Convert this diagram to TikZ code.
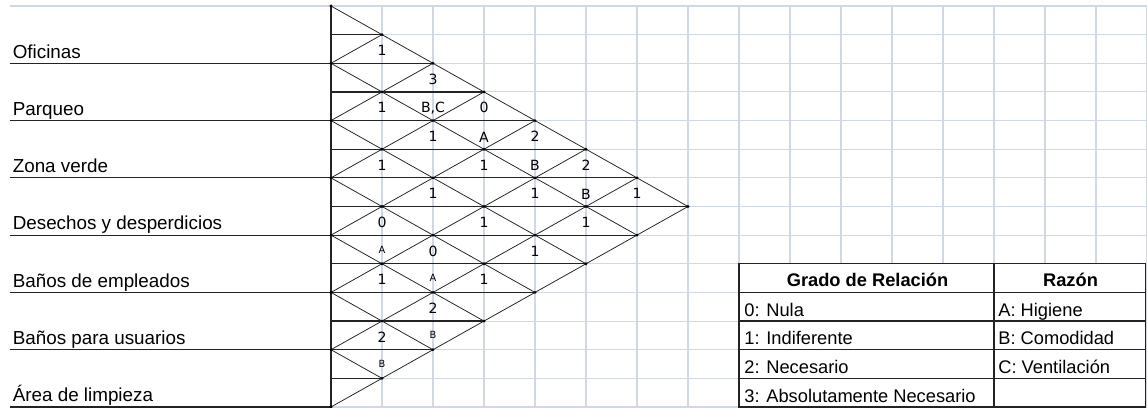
\documentclass[tikz,border=0pt]{standalone}
\usepackage{fontspec}
\setmainfont{Liberation Sans}
\newfontfamily\cellfont{DejaVu Sans}
\usepackage{tikz}
\usetikzlibrary{positioning}
\definecolor{gridblue}{RGB}{208,215,229}
\definecolor{mydark}{RGB}{35,35,35}
\tikzset{
  gridline/.style={draw=gridblue, line width=0.75pt},
  diagline/.style={draw=mydark, line width=0.55pt},
  rungline/.style={draw=mydark, line width=0.85pt},
  vertexdot/.style={fill=black},
  deptlabel/.style={anchor=base west, inner sep=0pt,
    font=\fontsize{13.4}{15}\selectfont},
  relnum/.style={inner sep=0pt, font=\cellfont\fontsize{10}{11}\selectfont},
  relletter/.style={inner sep=0pt, font=\cellfont\fontsize{10}{11}\selectfont},
  smallletter/.style={inner sep=0pt, font=\cellfont\fontsize{7}{8}\selectfont},
  tabhead/.style={anchor=base, inner sep=0pt,
    font=\bfseries\fontsize{13}{15}\selectfont},
  tabcell/.style={anchor=base west, inner sep=0pt,
    font=\fontsize{13}{15}\selectfont},
  tabline/.style={draw=mydark, line width=0.9pt}
}

\begin{document}
\begin{tikzpicture}[x=1.275cm, y=0.716cm]
  \useasboundingbox (-6.49,-0.035) rectangle (16.0,14.21);
  % Spreadsheet grid
  \foreach \c in {1,...,16}
    \draw[gridline] (\c,-0.2) -- (\c,14);
  \foreach \r in {0,...,13}
    \draw[gridline] (0,\r) -- (16.2,\r);
  \draw[gridline] (-6.294,14) -- (16.2,14);
  % Department names and their underlines
  \foreach \name [count=\k from 0] in {Oficinas, Parqueo, Zona verde,
      Desechos y desperdicios, Baños de empleados, Baños para usuarios,
      Área de limpieza} {
    \node[deptlabel] (dept\k) at (-6.245,12.18-2*\k) {\name};
    \draw[rungline] (-6.294,12-2*\k) -- (0,12-2*\k);
  }
  % Left edge of the chart
  \draw[rungline] (0,0) -- (0,14);
  % Horizontal rungs of the triangle
  \foreach \j in {1,...,13} {
    \pgfmathsetmacro\len{min(\j,14-\j)}
    \draw[rungline] (0,\j) -- (\len,\j);
  }
  % Diagonals
  \foreach \k in {0,...,7} {
    \draw[diagline] (0,2*\k) -- (\k,\k);
    \draw[diagline] (0,2*\k) -- (7-\k,7+\k);
  }
  % Dots on the crossings
  \foreach \k in {0,...,7}
    \foreach \m in {0,...,\k}
      \fill[vertexdot] (\k-\m,\k+\m) circle (1.1pt);
  % Grado de relacion (upper halves)
  \foreach \a/\b/\g in {0/1/1, 0/2/3, 0/3/0, 0/4/2, 0/5/2, 0/6/1,
      1/2/1, 1/3/1, 1/4/1, 1/5/1, 1/6/1,
      2/3/1, 2/4/1, 2/5/1, 2/6/1,
      3/4/0, 3/5/0, 3/6/1,
      4/5/1, 4/6/2,
      5/6/2}
    \node[relnum] (g\a\b) at (\b-\a,13.45-\a-\b) {\g};
  % Razon (lower halves)
  \foreach \a/\b/\w in {0/2/{B,C}, 0/3/A, 0/4/B, 0/5/B}
    \node[relletter] (w\a\b) at (\b-\a,12.42-\a-\b) {\w};
  \foreach \a/\b/\w in {3/4/A, 3/5/A, 4/6/B, 5/6/B}
    \node[smallletter] (w\a\b) at (\b-\a,12.5-\a-\b) {\w};
  % Legend table
  \fill[white] (8,0) rectangle (15.97,5);
  \draw[tabline] (8,0) rectangle (15.97,5);
  \foreach \r in {1,...,4}
    \draw[tabline] (8,\r) -- (15.97,\r);
  \draw[tabline] (13,0) -- (13,5);
  \node[tabhead] (hgrado) at (10.52,4.2) {Grado de Relación};
  \node[tabhead] (hrazon) at (14.5,4.2) {Razón};
  \foreach \txt [count=\i from 1] in {0: Nula, 1: Indiferente, 2: Necesario,
      3: Absolutamente Necesario}
    \node[tabcell] (grado\i) at (8.1,4.17-\i) {\txt};
  \foreach \txt [count=\i from 1] in {A: Higiene, B: Comodidad, C: Ventilación}
    \node[tabcell] (razon\i) at (13.08,4.17-\i) {\txt};
\end{tikzpicture}
\end{document}
